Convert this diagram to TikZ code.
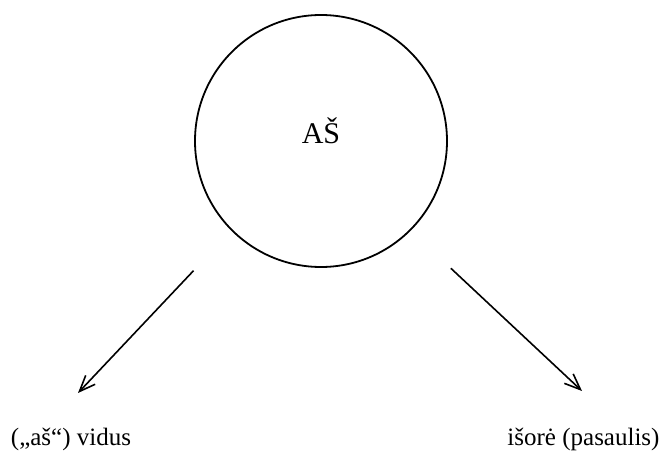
\documentclass[tikz,border=0pt]{standalone}
\usepackage{fontspec}
\setmainfont{Liberation Serif}
\usepackage{xcolor}
\usetikzlibrary{arrows.meta, positioning}

\begin{document}
\begin{tikzpicture}[
    x=1pt, y=1pt,
    selfcircle/.style={draw, circle, line width=1.8pt, minimum size=252pt, inner sep=0pt},
    arrow/.style={-{Straight Barb[length=16pt, width=13pt, line width=1.6pt]}, line width=1.6pt, shorten <=55pt},
    label/.style={font=\fontsize{25}{30}\selectfont, anchor=base, inner sep=0pt},
]
\useasboundingbox (0,0) rectangle (662,453);

\node[selfcircle] (self) at (321,312) {};
\node[font=\fontsize{30}{36}\selectfont, anchor=base, inner sep=0pt] (selfname)
    at ([yshift=-3pt]self.center) {AŠ};

% arrow tips
\coordinate (tipIn)  at (78,60);
\coordinate (tipOut) at (582,62);

\draw[arrow] (self.-135) -- (tipIn);
\draw[arrow] (self.-45) -- (tipOut);

% labels below
\node[label] (inside)  at (71,8)    {(„aš“) vidus};
\node[label] (outside) at (583.5,8) {išorė (pasaulis)};

\end{tikzpicture}
\end{document}
